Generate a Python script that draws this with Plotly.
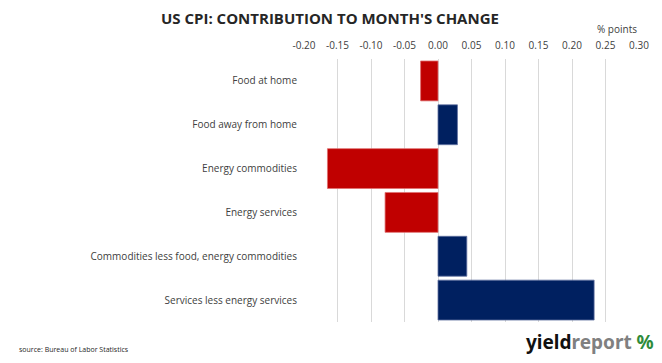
import plotly.graph_objects as go

categories = ["Food at home", "Food away from home", "Energy commodities",
              "Energy services", "Commodities less food, energy commodities",
              "Services less energy services"]
values = [-0.026, 0.029, -0.165, -0.079, 0.043, 0.233]
tick_vals = [-0.20, -0.15, -0.10, -0.05, 0.00, 0.05, 0.10, 0.15, 0.20, 0.25, 0.30]
tick_text = ["%.2f" % v for v in tick_vals]

colors = ["#C00000" if v < 0 else "#002060" for v in values]
line_colors = ["#E07070" if v < 0 else "#6070A0" for v in values]

W, H = 662, 363
l, r, t, b = 304, 23, 59, 41
pw, ph = W - l - r, H - t - b


def px(xp, yp):
    return (xp - l) / pw, 1 - (yp - t) / ph


fig = go.Figure(go.Bar(
    x=values, y=categories, orientation="h",
    marker=dict(color=colors, line=dict(color=line_colors, width=0.8)),
    hoverinfo="skip",
))

tx, ty = px(330, 18)
sx, sy = px(17, 349)
lx, ly = px(656, 342)

fig.update_layout(
    width=W, height=H,
    margin=dict(l=l, r=r, t=t, b=b, autoexpand=False),
    paper_bgcolor="white", plot_bgcolor="white",
    bargap=0.09,
    showlegend=False,
    font=dict(family="Open Sans", size=10, color="#404040"),
    xaxis=dict(range=[-0.20, 0.30], side="top", tickvals=tick_vals, ticktext=tick_text,
               showgrid=True, gridcolor="#D9D9D9", gridwidth=1, zeroline=False,
               showline=False, ticks="", tickfont=dict(size=10, color="#404040"),
               ticklabelstandoff=7,
               automargin=False, fixedrange=True),
    yaxis=dict(categoryorder="array", categoryarray=categories, autorange="reversed",
               showgrid=False, zeroline=False, showline=False, ticks="",
               automargin=False, fixedrange=True,
               ticklabelstandoff=6, tickfont=dict(size=10, color="#404040")),
    annotations=[
        dict(text="<b>US CPI: CONTRIBUTION TO MONTH'S CHANGE</b>", x=tx, y=ty,
             xref="paper", yref="paper", xanchor="center", yanchor="middle",
             showarrow=False,
             font=dict(size=15, color="#262626", family="Open Sans")),
        dict(text="% points", x=1.0, y=1.0, xref="paper", yref="paper",
             xanchor="right", yanchor="bottom", yshift=21, showarrow=False,
             font=dict(size=10, color="#404040")),
        dict(text="source: Bureau of Labor Statistics", x=sx, y=sy,
             xref="paper", yref="paper", xanchor="left", yanchor="middle",
             showarrow=False, font=dict(size=7, color="#262626")),
        dict(text="<b><span style='color:#111111'>yield</span><span style='color:#808080'>report</span> "
                  "<span style='color:#2E8B3A'>%</span></b>", x=lx, y=ly,
             xref="paper", yref="paper", xanchor="right", yanchor="middle",
             showarrow=False, font=dict(size=19, family="Noto Sans")),
    ],
)

fig.write_html("out.html", config={"displayModeBar": False},
               post_script="document.body.style.margin='0';")
